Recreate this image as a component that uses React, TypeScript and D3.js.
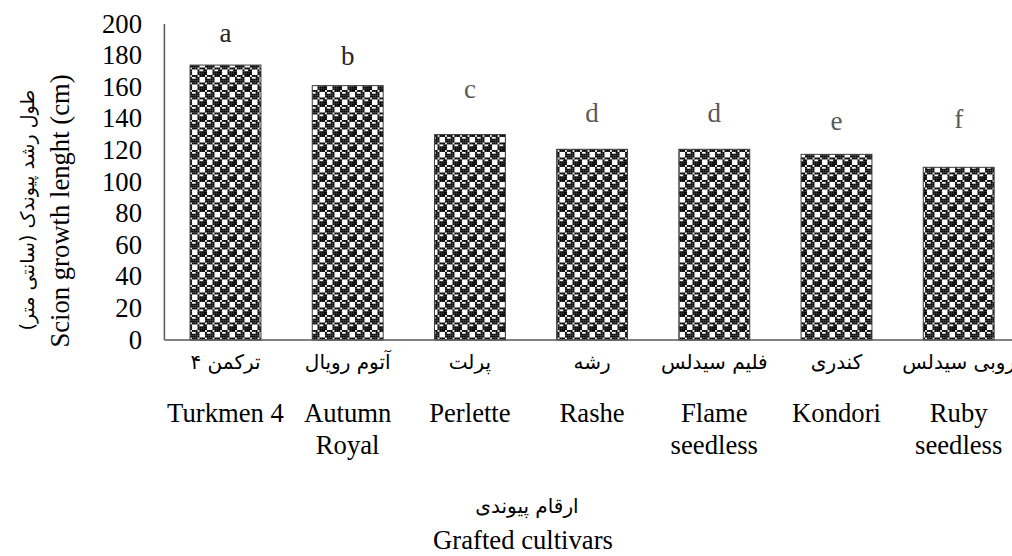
import React from "react";
import * as d3 from "d3";

const categoriesFa: string[] = ["ترکمن ۴", "آتوم رویال", "پرلت", "رشه", "فلیم سیدلس", "کندری", "روبی سیدلس"];
const categoriesEn: string[][] = [
  ["Turkmen 4"],
  ["Autumn", "Royal"],
  ["Perlette"],
  ["Rashe"],
  ["Flame", "seedless"],
  ["Kondori"],
  ["Ruby", "seedless"],
];
const values: number[] = [174, 161, 130, 120.7, 120.7, 117.5, 109.3];
const letters: string[] = ["a", "b", "c", "d", "d", "e", "f"];
const letterHeights: number[] = [188.6, 174, 153, 138, 138, 133, 134];
const yTicks: number[] = [0, 20, 40, 60, 80, 100, 120, 140, 160, 180, 200];

const yTitleFa = "طول رشد پیوندک (سانتی متر)";
const yTitleEn = "Scion growth lenght (cm)";
const xTitleFa = "ارقام پیوندی";
const xTitleEn = "Grafted cultivars";

// Excel "sphere" 8x8 pattern bits
const patternRows: number[] = [0x77, 0x98, 0xf8, 0xf8, 0x77, 0x89, 0x8f, 0x8f];

const W = 1012;
const H = 556;
const serif = "'Liberation Serif', 'Times New Roman', serif";
const faFont = "'DejaVu Sans', 'Noto Sans', sans-serif";

export default function App() {
  const left = 164.4;
  const step = 122.2;
  const x = d3
    .scaleBand<string>()
    .domain(categoriesFa)
    .range([left, left + step * categoriesFa.length])
    .paddingInner(0.42)
    .paddingOuter(0.21);
  const y = d3.scaleLinear().domain([0, 200]).range([340, 24]);

  const cell = 15 / 8;
  const patternCells: { cx: number; cy: number }[] = [];
  patternRows.forEach((row, r) => {
    for (let c = 0; c < 8; c++) {
      if ((row >> (7 - c)) & 1) patternCells.push({ cx: c, cy: r });
    }
  });

  return (
    <div style={{ position: "absolute", left: 0, top: 0, width: W, height: H, background: "#fff" }}>
      <svg width={W} height={H} style={{ display: "block" }}>
        <defs>
          <pattern id="sphere" patternUnits="userSpaceOnUse" width={cell * 8} height={cell * 8} x={x(categoriesFa[0])} y={0}>
            <rect width={cell * 8} height={cell * 8} fill="#fff" />
            {patternCells.map((p, i) => (
              <rect key={i} x={p.cx * cell} y={p.cy * cell} width={cell + 0.05} height={cell + 0.05} fill="#000" />
            ))}
          </pattern>
        </defs>
        <rect width={W} height={H} fill="#fff" />

        {/* bars */}
        {categoriesFa.map((c, i) => (
          <rect
            key={c}
            x={x(c)}
            y={y(values[i])}
            width={x.bandwidth()}
            height={y(0) - y(values[i])}
            fill="url(#sphere)"
            stroke="#3a3a3a"
            strokeWidth={1}
          />
        ))}

        {/* axes */}
        <line x1={left} x2={left} y1={y(200)} y2={y(0)} stroke="#595959" strokeWidth={1.5} />
        <line x1={left} x2={left + step * categoriesFa.length} y1={y(0)} y2={y(0)} stroke="#595959" strokeWidth={1.5} />

        {/* y ticks */}
        {yTicks.map((t) => (
          <text key={t} x={142} y={y(t)} dy="0.32em" textAnchor="end" fontFamily={serif} fontSize={26.67} fill="#000">
            {t}
          </text>
        ))}

        {/* letters */}
        {categoriesFa.map((c, i) => (
          <text
            key={"l" + i}
            x={(x(c) as number) + x.bandwidth() / 2}
            y={y(letterHeights[i])}
            textAnchor="middle"
            fontFamily={serif}
            fontSize={27}
            fill={i < 2 ? "#262626" : "#595959"}
          >
            {letters[i]}
          </text>
        ))}

        {/* x labels */}
        {categoriesFa.map((c, i) => {
          const cx = (x(c) as number) + x.bandwidth() / 2;
          return (
            <g key={"x" + i}>
              <text x={cx} y={369} textAnchor="middle" fontFamily={faFont} fontSize={20} direction="rtl" fill="#000">
                {c}
              </text>
              {categoriesEn[i].map((line, j) => (
                <text key={j} x={cx} y={422 + j * 32} textAnchor="middle" fontFamily={serif} fontSize={26.67} fill="#000">
                  {line}
                </text>
              ))}
            </g>
          );
        })}

        {/* y titles */}
        <text transform="translate(34,210) rotate(-90)" textAnchor="middle" fontFamily={faFont} fontSize={19} direction="rtl" fill="#000">
          {yTitleFa}
        </text>
        <text transform="translate(69,211) rotate(-90)" textAnchor="middle" fontFamily={serif} fontSize={26.67} fill="#000">
          {yTitleEn}
        </text>

        {/* x titles */}
        <text x={527} y={513} textAnchor="middle" fontFamily={faFont} fontSize={20} direction="rtl" fill="#000">
          {xTitleFa}
        </text>
        <text x={523} y={549} textAnchor="middle" fontFamily={serif} fontSize={26.67} fill="#000">
          {xTitleEn}
        </text>
      </svg>
    </div>
  );
}
